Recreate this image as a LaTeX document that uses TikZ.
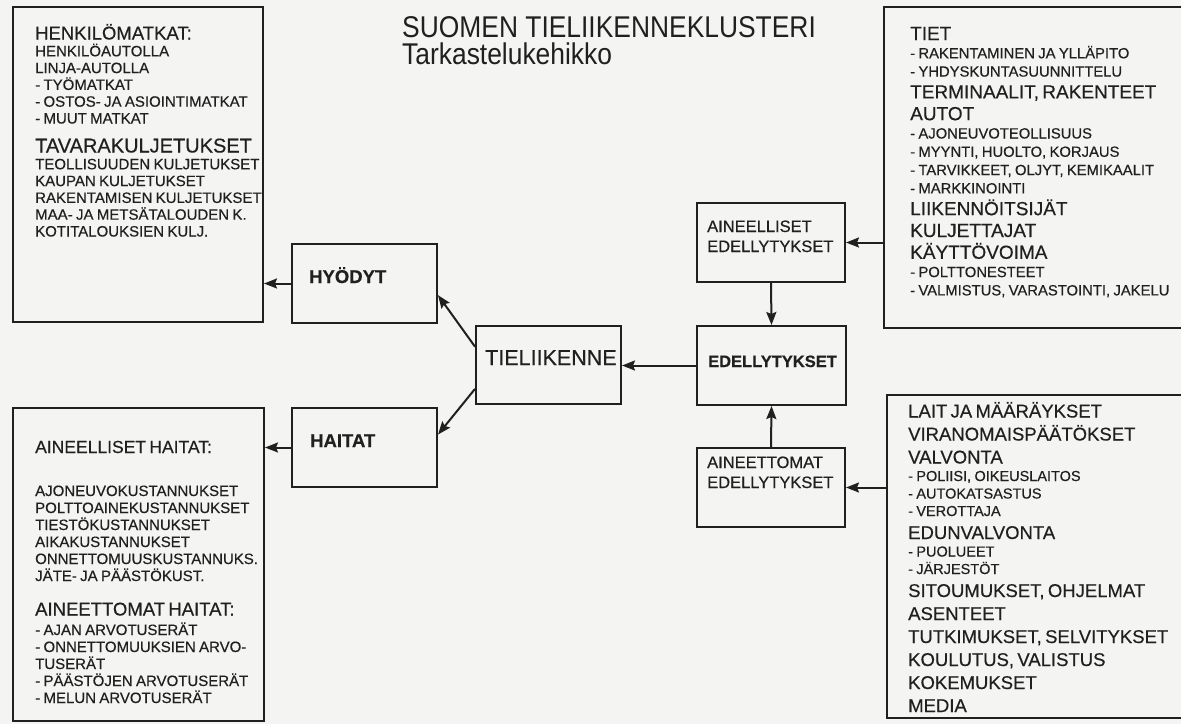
\documentclass[tikz,border=0pt]{standalone}
\usepackage{fontspec}
\setmainfont{Liberation Sans}[FakeBold=0.4]
\newfontfamily\titlefont[FakeStretch=0.88]{Liberation Sans}
\usetikzlibrary{arrows.meta}
\definecolor{ink}{RGB}{32,32,32}
\definecolor{paper}{RGB}{244,244,243}
\setlength\parindent{0pt}

% line pitches and sizes, reset inside each list box
\newcommand\hdsk{22}
\newcommand\smsk{17}
\newcommand\hdsz{18.5}
\newcommand\smsz{14.5}
\newcommand\hd[1]{{\fontsize{\hdsz}{\hdsk}\selectfont #1\par}}
\newcommand\sm[1]{{\fontsize{\smsz}{\smsk}\selectfont #1\par}}

\begin{document}
\begin{tikzpicture}[x=1pt, y=-1pt,
  box/.style={draw=ink, line width=2pt, inner sep=0pt},
  arrow/.style={draw=ink, line width=2pt, -{Stealth[length=13pt,width=10pt,inset=2pt]}},
  list/.style={anchor=base west, inner sep=0pt, text width=300pt, align=left, text=ink},
  lbl/.style={anchor=base west, inner sep=0pt, text=ink}
]
  \useasboundingbox (0,0) rectangle (1181,724);
  \clip (0,0) rectangle (1181,724);
  \fill[paper] (0,0) rectangle (1181,724);

  % title
  \node[lbl, font=\titlefont\fontsize{30}{30}\selectfont] (title) at (402,37) {SUOMEN TIELIIKENNEKLUSTERI};
  \node[lbl, font=\titlefont\fontsize{30}{30}\selectfont] (subtitle) at (402,64) {Tarkastelukehikko};

  % boxes
  \node[box, minimum width=250pt, minimum height=315pt] (travel) at (138,164.5) {};
  \node[box, minimum width=251pt, minimum height=313pt] (harm) at (138.5,564.5) {};
  \node[box, minimum width=145pt, minimum height=79pt] (hyodyt) at (364.5,283.5) {};
  \node[box, minimum width=145pt, minimum height=79pt] (haitat) at (364.5,447.5) {};
  \node[box, minimum width=145pt, minimum height=78pt] (tieliikenne) at (548.5,365) {};
  \node[box, minimum width=148pt, minimum height=79pt] (aineelliset) at (771,242.5) {};
  \node[box, minimum width=149pt, minimum height=79pt] (edellytykset) at (771.5,365.5) {};
  \node[box, minimum width=148pt, minimum height=79pt] (aineettomat) at (771,487.5) {};
  \node[box, minimum width=311pt, minimum height=321pt] (infra) at (1039.5,167.5) {};
  \node[box, minimum width=308pt, minimum height=323pt] (rules) at (1041,556.5) {};

  % box labels
  \node[lbl, font=\bfseries\fontsize{18.5}{18.5}\selectfont] (hyodyt-t) at (309,283) {HYÖDYT};
  \node[lbl, font=\bfseries\fontsize{18.5}{18.5}\selectfont] (haitat-t) at (310,447) {HAITAT};
  \node[lbl, font=\fontsize{21.5}{21.5}\selectfont] (tieliikenne-t) at (485,365) {TIELIIKENNE};
  \node[lbl, font=\bfseries\fontsize{16.5}{16.5}\selectfont] (edellytykset-t) at (708,367) {EDELLYTYKSET};
  \node[list, text width=140pt, font=\fontsize{16.5}{20}\selectfont] (aineelliset-t) at (707,232) {AINEELLISET\\EDELLYTYKSET};
  \node[list, text width=140pt, font=\fontsize{16.5}{20}\selectfont] (aineettomat-t) at (707,468) {AINEETTOMAT\\EDELLYTYKSET};

  % list texts
  \node[list] (travel-t) at (35,39.5) {\renewcommand\smsk{16.8}\renewcommand\smsz{15}%
    \hd{HENKILÖMATKAT:}
    \sm{HENKILÖAUTOLLA}
    \sm{LINJA-AUTOLLA}
    \sm{- TYÖMATKAT}
    \sm{- OSTOS- JA ASIOINTIMATKAT}
    \sm{- MUUT MATKAT}
    \vspace{7pt}
    {\renewcommand\hdsz{20}\hd{TAVARAKULJETUKSET}}
    \sm{TEOLLISUUDEN KULJETUKSET}
    \sm{KAUPAN KULJETUKSET}
    \sm{RAKENTAMISEN KULJETUKSET}
    \sm{MAA- JA METSÄTALOUDEN K.}
    \sm{KOTITALOUKSIEN KULJ.}};
  \node[list] (harm-t) at (35,453) {\renewcommand\hdsz{17.5}\renewcommand\smsz{15}%
    \hd{AINEELLISET HAITAT:}
    \vspace{26pt}
    \sm{AJONEUVOKUSTANNUKSET}
    \sm{POLTTOAINEKUSTANNUKSET}
    \sm{TIESTÖKUSTANNUKSET}
    \sm{AIKAKUSTANNUKSET}
    \sm{ONNETTOMUUSKUSTANNUKS.}
    \sm{JÄTE- JA PÄÄSTÖKUST.}
    \vspace{12.5pt}
    {\renewcommand\hdsz{18.5}\hd{AINEETTOMAT HAITAT:}}
    \vspace{2.5pt}
    \sm{- AJAN ARVOTUSERÄT}
    \sm{- ONNETTOMUUKSIEN ARVO-}
    \sm{TUSERÄT}
    \sm{- PÄÄSTÖJEN ARVOTUSERÄT}
    \sm{- MELUN ARVOTUSERÄT}};
  \node[list] (infra-t) at (910,40) {\renewcommand\hdsk{21.8}\renewcommand\smsk{18.3}%
    \renewcommand\hdsz{19}\renewcommand\smsz{14.8}%
    \hd{TIET}
    \sm{- RAKENTAMINEN JA YLLÄPITO}
    \sm{- YHDYSKUNTASUUNNITTELU}
    \hd{TERMINAALIT, RAKENTEET}
    \hd{AUTOT}
    \sm{- AJONEUVOTEOLLISUUS}
    \sm{- MYYNTI, HUOLTO, KORJAUS}
    \sm{- TARVIKKEET, OLJYT, KEMIKAALIT}
    \sm{- MARKKINOINTI}
    \hd{LIIKENNÖITSIJÄT}
    \hd{KULJETTAJAT}
    \hd{KÄYTTÖVOIMA}
    \sm{- POLTTONESTEET}
    \sm{- VALMISTUS, VARASTOINTI, JAKELU}};
  \node[list] (rules-t) at (908,417.5) {\renewcommand\hdsk{23}\renewcommand\smsk{17.5}%
    \hd{LAIT JA MÄÄRÄYKSET}
    \hd{VIRANOMAISPÄÄTÖKSET}
    \hd{VALVONTA}
    \sm{- POLIISI, OIKEUSLAITOS}
    \sm{- AUTOKATSASTUS}
    \sm{- VEROTTAJA}
    \hd{EDUNVALVONTA}
    \sm{- PUOLUEET}
    \sm{- JÄRJESTÖT}
    \hd{SITOUMUKSET, OHJELMAT}
    \hd{ASENTEET}
    \hd{TUTKIMUKSET, SELVITYKSET}
    \hd{KOULUTUS, VALISTUS}
    \hd{KOKEMUKSET}
    \hd{MEDIA}};

  % connectors
  \draw[arrow] (hyodyt.west) -- (hyodyt.west -| travel.east);
  \draw[arrow] (haitat.west) -- (haitat.west -| harm.east);
  \draw[arrow] (tieliikenne.166) -- (hyodyt.-9);
  \draw[arrow] (tieliikenne.198) -- (haitat.10);
  \draw[arrow] (edellytykset.west) -- (edellytykset.west -| tieliikenne.east);
  \draw[arrow] (aineelliset.south) -- (edellytykset.north);
  \draw[arrow] (aineettomat.north) -- (edellytykset.south);
  \draw[arrow] (aineelliset.east -| infra.west) -- (aineelliset.east);
  \draw[arrow] (aineettomat.east -| rules.west) -- (aineettomat.east);
\end{tikzpicture}
\end{document}
